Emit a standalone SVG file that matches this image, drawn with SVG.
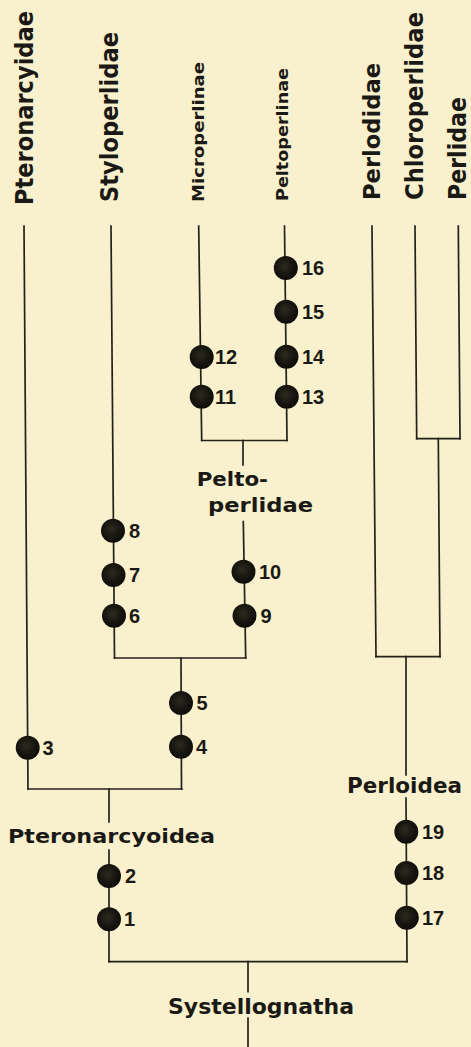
<svg xmlns="http://www.w3.org/2000/svg" width="471" height="1047" viewBox="0 0 471 1047">
<defs>
<radialGradient id="dot" cx="0.45" cy="0.42" r="0.6">
<stop offset="0" stop-color="#2e2a1e"/>
<stop offset="0.6" stop-color="#17150f"/>
<stop offset="1" stop-color="#0c0b09"/>
</radialGradient>
<style>
.bg{fill:#f9f1cd}
.ln{fill:none;stroke:#24211b;stroke-width:1.7;stroke-linecap:square}
.dot{fill:url(#dot)}
.num{font-family:"Liberation Sans",Arial,sans-serif;font-weight:bold;font-size:20px;fill:#1b1915}
.tx{font-family:"DejaVu Sans","Liberation Sans",sans-serif;font-weight:bold;fill:#1b1915}
</style>
</defs>
<rect class="bg" x="0" y="0" width="471" height="1047"/>

<g id="connectors">
<path class="ln" d="M24,226 L28,789"/>
<path class="ln" d="M28,789 L182,789"/>
<path class="ln" d="M111,226 L114.5,658"/>
<path class="ln" d="M114.5,658 L245.7,658"/>
<path class="ln" d="M198.7,226 L201.7,440.5"/>
<path class="ln" d="M284.5,226 L287,440.5"/>
<path class="ln" d="M201.7,440.5 L287,440.5"/>
<path class="ln" d="M243,440.5 L243,465"/>
<path class="ln" d="M243.3,521.7 L245.7,658"/>
<path class="ln" d="M181,658 L181.5,789"/>
<path class="ln" d="M109,789 L109,822"/>
<path class="ln" d="M109,850 L109,961.7"/>
<path class="ln" d="M372,226 L376,656.7"/>
<path class="ln" d="M415,226 L416.7,438.7"/>
<path class="ln" d="M458.3,226 L460,438.7"/>
<path class="ln" d="M416.7,438.7 L460,438.7"/>
<path class="ln" d="M438.3,438.7 L440,656.7"/>
<path class="ln" d="M376,656.7 L440,656.7"/>
<path class="ln" d="M406,656.7 L406,775"/>
<path class="ln" d="M406,798 L407,961.7"/>
<path class="ln" d="M109,961.7 L407,961.7"/>
<path class="ln" d="M248,961.7 L248,991.7"/>
<path class="ln" d="M248,1018 L248,1047"/>
</g>

<g id="taxa">
<text id="t-pteronarcyidae" class="tx" font-size="24" transform="translate(33,205) rotate(-90)" textLength="194" lengthAdjust="spacingAndGlyphs">Pteronarcyidae</text>
<text id="t-styloperlidae" class="tx" font-size="24" transform="translate(118,202) rotate(-90)" textLength="170" lengthAdjust="spacingAndGlyphs">Styloperlidae</text>
<text id="t-microperlinae" class="tx" font-size="15" transform="translate(203.5,202) rotate(-90)" textLength="140" lengthAdjust="spacingAndGlyphs">Microperlinae</text>
<text id="t-peltoperlinae" class="tx" font-size="15" transform="translate(288,201) rotate(-90)" textLength="133" lengthAdjust="spacingAndGlyphs">Peltoperlinae</text>
<text id="t-perlodidae" class="tx" font-size="23" transform="translate(380,200) rotate(-90)" textLength="137" lengthAdjust="spacingAndGlyphs">Perlodidae</text>
<text id="t-chloroperlidae" class="tx" font-size="24" transform="translate(423,200) rotate(-90)" textLength="188" lengthAdjust="spacingAndGlyphs">Chloroperlidae</text>
<text id="t-perlidae" class="tx" font-size="24" transform="translate(466,200) rotate(-90)" textLength="103" lengthAdjust="spacingAndGlyphs">Perlidae</text>
</g>

<g id="groups">
<g id="g-peltoperlidae">
<text class="tx" font-size="20" x="196.7" y="485.7" textLength="71.3" lengthAdjust="spacingAndGlyphs">Pelto-</text>
<text class="tx" font-size="20" x="208" y="511.7" textLength="105" lengthAdjust="spacingAndGlyphs">perlidae</text>
</g>
<text id="g-pteronarcyoidea" class="tx" font-size="20" x="8" y="842.7" textLength="207" lengthAdjust="spacingAndGlyphs">Pteronarcyoidea</text>
<text id="g-perloidea" class="tx" font-size="21" x="347" y="792.7" textLength="115" lengthAdjust="spacingAndGlyphs">Perloidea</text>
<text id="g-systellognatha" class="tx" font-size="22" x="168" y="1014" textLength="186" lengthAdjust="spacingAndGlyphs">Systellognatha</text>
</g>

<g id="characters">
<g id="n1"><circle class="dot" cx="109" cy="919.3" r="12"/><text class="num" x="124" y="926.3">1</text></g>
<g id="n2"><circle class="dot" cx="109" cy="876" r="12"/><text class="num" x="125" y="883">2</text></g>
<g id="n3"><circle class="dot" cx="27.7" cy="747.7" r="12"/><text class="num" x="42.5" y="754.7">3</text></g>
<g id="n4"><circle class="dot" cx="181" cy="746.7" r="12"/><text class="num" x="196" y="753.7">4</text></g>
<g id="n5"><circle class="dot" cx="181" cy="703" r="12"/><text class="num" x="196.5" y="710">5</text></g>
<g id="n6"><circle class="dot" cx="114" cy="615.7" r="12"/><text class="num" x="129" y="622.7">6</text></g>
<g id="n7"><circle class="dot" cx="113.5" cy="575" r="12"/><text class="num" x="129" y="582">7</text></g>
<g id="n8"><circle class="dot" cx="113" cy="530.7" r="12"/><text class="num" x="129" y="537.7">8</text></g>
<g id="n9"><circle class="dot" cx="244.5" cy="615.7" r="12"/><text class="num" x="260.5" y="622.7">9</text></g>
<g id="n10"><circle class="dot" cx="243.5" cy="571.7" r="12"/><text class="num" x="259" y="578.7">10</text></g>
<g id="n11"><circle class="dot" cx="201.7" cy="396.7" r="12"/><text class="num" x="215" y="403.7">11</text></g>
<g id="n12"><circle class="dot" cx="201.7" cy="357" r="12"/><text class="num" x="215" y="364">12</text></g>
<g id="n13"><circle class="dot" cx="286.8" cy="396.7" r="12"/><text class="num" x="302" y="403.7">13</text></g>
<g id="n14"><circle class="dot" cx="286.5" cy="356.7" r="12"/><text class="num" x="302" y="363.7">14</text></g>
<g id="n15"><circle class="dot" cx="286.2" cy="311.7" r="12"/><text class="num" x="302" y="318.7">15</text></g>
<g id="n16"><circle class="dot" cx="285.8" cy="268" r="12"/><text class="num" x="302" y="275">16</text></g>
<g id="n17"><circle class="dot" cx="406.8" cy="917.7" r="12"/><text class="num" x="422" y="924.7">17</text></g>
<g id="n18"><circle class="dot" cx="406.5" cy="873" r="12"/><text class="num" x="422" y="880">18</text></g>
<g id="n19"><circle class="dot" cx="406.3" cy="831.7" r="12"/><text class="num" x="422" y="838.7">19</text></g>
</g>
</svg>
